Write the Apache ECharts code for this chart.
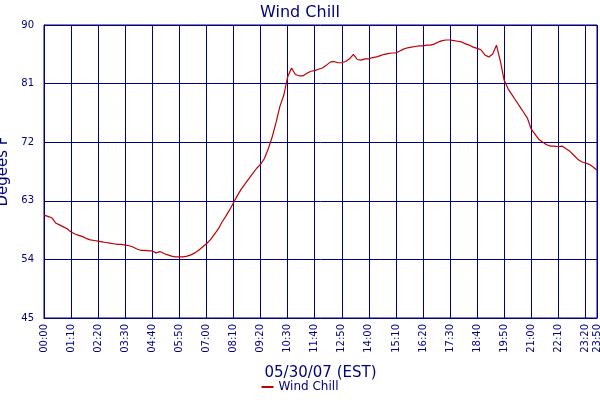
<!DOCTYPE html>
<html><head><meta charset="utf-8">
<script src="https://cdn.jsdelivr.net/npm/echarts@6/dist/echarts.min.js"></script>
<style>html,body{margin:0;padding:0;background:#fff}#c{width:600px;height:400px}</style>
</head><body><div id="c"></div>
<script>
const values = [
60.8,60.6,60.4,59.6,59.3,59.0,58.7,
58.2,57.9,57.7,57.5,57.2,57.0,56.9,
56.8,56.7,56.6,56.5,56.4,56.3,56.3,
56.2,56.1,55.9,55.6,55.4,55.4,55.3,
55.3,55.0,55.2,54.9,54.7,54.5,54.4,
54.4,54.4,54.5,54.7,55.0,55.4,55.9,
56.4,57.0,57.8,58.6,59.7,60.6,61.6,
62.7,63.8,64.8,65.6,66.4,67.2,68.0,
68.6,69.5,71.0,72.8,75.0,77.5,79.2,
82.0,83.4,82.4,82.2,82.2,82.6,82.9,
83.0,83.2,83.4,83.8,84.3,84.4,84.2,
84.2,84.4,84.8,85.5,84.7,84.6,84.8,
84.8,85.0,85.1,85.3,85.5,85.6,85.7,
85.7,86.0,86.3,86.5,86.6,86.7,86.8,
86.8,86.9,86.9,87.1,87.4,87.6,87.7,
87.7,87.6,87.5,87.4,87.1,86.9,86.6,
86.4,86.2,85.4,85.1,85.5,86.9,84.5,81.5,
80.2,79.3,78.4,77.5,76.6,75.7,74.0,
73.2,72.4,72.0,71.6,71.4,71.4,71.3,
71.4,71.0,70.6,70.0,69.4,69.0,68.8,
68.6,68.2,67.7];
const categories = values.map((v,i)=>{const m=i*10;return String(Math.floor(m/60)).padStart(2,'0')+':'+String(m%60).padStart(2,'0');});
const yTicks = {min:45,max:90,step:9};
const navy='#000080';
const show=(i)=>i%7===0||i===categories.length-1;
const chart=echarts.init(document.getElementById('c'));
chart.setOption({
  animation:false,
  title:{text:'Wind Chill',left:'center',top:0,textStyle:{color:navy,fontFamily:'DejaVu Sans',fontSize:16,fontWeight:'normal'}},
  legend:{bottom:2,left:'center',icon:'rect',itemWidth:12,itemHeight:2,textStyle:{color:navy,fontFamily:'DejaVu Sans',fontSize:12},data:['Wind Chill']},
  grid:{left:44,right:3,top:25,bottom:82,containLabel:false,outerBoundsMode:'none',show:true,borderColor:navy,borderWidth:1},
  xAxis:{type:'category',data:categories,boundaryGap:false,
    name:'05/30/07 (EST)',nameLocation:'middle',nameGap:48,nameTextStyle:{color:navy,fontFamily:'DejaVu Sans',fontSize:15},
    axisLine:{lineStyle:{color:navy}},axisTick:{show:false},
    axisLabel:{interval:(i)=>show(i),rotate:90,color:navy,fontFamily:'DejaVu Sans',fontSize:10,margin:6},
    splitLine:{show:true,interval:(i)=>show(i),lineStyle:{color:navy,width:1}}},
  yAxis:{type:'value',min:yTicks.min,max:yTicks.max,interval:yTicks.step,
    name:'Degees F',nameLocation:'middle',nameGap:30,nameTextStyle:{color:navy,fontFamily:'DejaVu Sans',fontSize:15},
    axisLine:{show:true,lineStyle:{color:navy}},axisTick:{show:false},
    axisLabel:{color:navy,fontFamily:'DejaVu Sans',fontSize:10,margin:10},
    splitLine:{lineStyle:{color:navy,width:1}}},
  series:[{name:'Wind Chill',type:'line',data:values,symbol:'none',lineStyle:{color:'#c00000',width:1.2},itemStyle:{color:'#c00000'}}]
});
</script></body></html>
